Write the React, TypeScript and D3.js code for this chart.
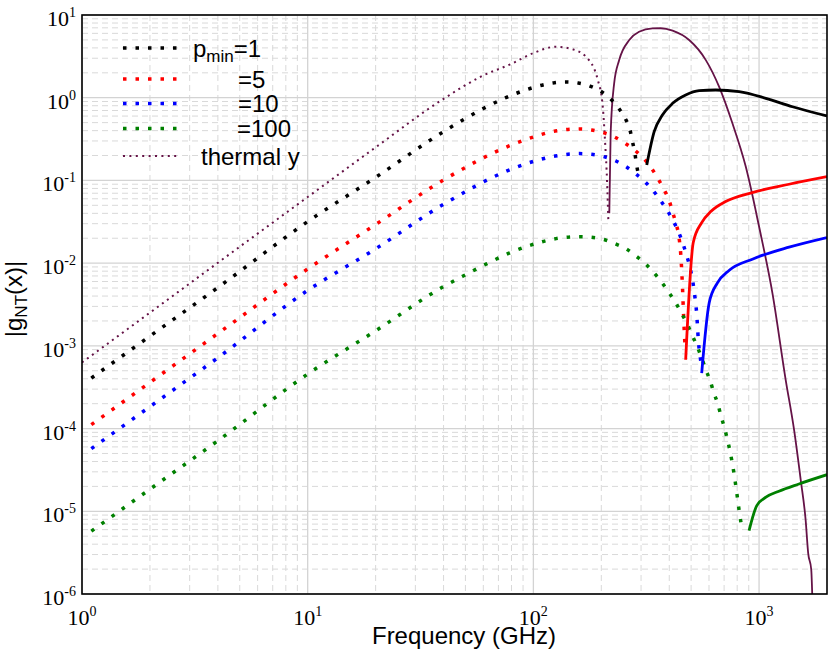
import * as d3 from "d3";

// |g_NT(x)|, GHz vs value
const p1DotFreq = [1.1, 2, 4, 10, 20, 40, 60, 76, 96, 124, 139, 158, 178, 199, 220, 239, 255, 268, 275, 282, 287, 294];
const p1DotVal = [4.08e-4, 1.31e-3, 5.07e-3, 0.0318, 0.109, 0.389, 0.74, 1.01, 1.285, 1.517, 1.55, 1.507, 1.384, 1.194, 0.964, 0.745, 0.564, 0.407, 0.294, 0.209, 0.151, 0.11];
const p1SolidFreq = [318, 343, 373, 414, 473, 543, 643, 816, 1071, 1406, 2000];
const p1SolidVal = [0.154, 0.389, 0.618, 0.855, 1.079, 1.216, 1.239, 1.183, 0.984, 0.778, 0.601];

const p5DotFreq = [1.1, 2, 4, 10, 20, 40, 78, 98, 125, 160, 181, 204, 230, 255, 283, 334, 358, 380, 400, 414, 428, 440, 450, 458, 464, 471];
const p5DotVal = [1.114e-4, 3.61e-4, 1.41e-3, 8.51e-3, 0.0293, 0.1014, 0.261, 0.329, 0.396, 0.419, 0.407, 0.378, 0.333, 0.281, 0.229, 0.14, 0.103, 0.0767, 0.0565, 0.0413, 0.0304, 0.022, 0.0126, 5.0e-3, 2.0e-3, 8.9e-4];
const p5SolidFreq = [473, 511, 557, 611, 711, 933, 1358, 2000];
const p5SolidVal = [6.79e-4, 0.01774, 0.0309, 0.042, 0.0555, 0.0713, 0.0899, 0.111];

const p10DotFreq = [1.1, 2, 4, 10, 20, 40, 77, 98, 125, 160, 181, 205, 231, 257, 284, 313, 341, 367, 393, 418, 440, 461, 478, 495, 516, 530, 538, 552];
const p10DotVal = [5.71e-5, 1.84e-4, 7.18e-4, 4.68e-3, 0.0149, 0.0515, 0.1315, 0.167, 0.197, 0.211, 0.207, 0.194, 0.173, 0.147, 0.12, 0.0959, 0.0741, 0.0565, 0.0429, 0.0318, 0.0237, 0.0169, 0.0123, 8.71e-3, 4.54e-3, 2.31e-3, 1.19e-3, 6.49e-4];
const p10SolidFreq = [557, 601, 653, 736, 934, 1358, 2000];
const p10SolidVal = [4.69e-4, 3.29e-3, 5.73e-3, 8.15e-3, 0.01117, 0.0156, 0.0204];

const p100DotFreq = [1.1, 2, 4, 10, 20, 40, 50, 62, 78, 98, 126, 161, 205, 231, 259, 287, 315, 343, 371, 400, 428, 455, 482, 507, 533, 557, 581, 607, 631, 658, 679, 703, 725, 745, 762, 778, 791, 805, 818, 832];
const p100DotVal = [5.75e-6, 1.85e-5, 7.13e-5, 4.56e-4, 1.52e-3, 5.21e-3, 7.23e-3, 9.79e-3, 0.0132, 0.0166, 0.0198, 0.0209, 0.0193, 0.0171, 0.01476, 0.012, 9.73e-3, 7.57e-3, 5.83e-3, 4.35e-3, 3.29e-3, 2.44e-3, 1.8e-3, 1.32e-3, 9.68e-4, 7.13e-4, 5.14e-4, 3.79e-4, 2.69e-4, 1.95e-4, 1.4e-4, 1.02e-4, 7.21e-5, 5.21e-5, 3.73e-5, 2.65e-5, 1.92e-5, 1.36e-5, 9.73e-6, 7.24e-6];
const p100SolidFreq = [903, 977, 1077, 1225, 1502, 2000];
const p100SolidVal = [5.85e-6, 1.17e-5, 1.49e-5, 1.75e-5, 2.14e-5, 2.77e-5];

const thermDotFreq = [1, 2, 5, 10, 20, 39.7, 60, 80, 100, 126, 149, 171, 193, 203, 208, 212, 215];
const thermDotVal = [6.3e-4, 2.52e-3, 0.0158, 0.063, 0.251, 0.957, 1.86, 2.57, 3.47, 4.13, 3.85, 3.13, 1.64, 0.778, 0.282, 0.1, 0.031];
const thermSolidFreq = [217, 220, 228, 240, 266, 294, 337, 367, 414, 490, 581, 665, 762, 873, 1000, 1146, 1312, 1429, 1529, 1608, 1651, 1703, 1720];
const thermSolidVal = [0.04, 0.372, 1.49, 2.85, 4.98, 6.27, 6.89, 6.92, 6.46, 4.98, 2.85, 1.36, 0.49, 0.147, 0.0277, 4.35e-3, 3.89e-4, 9.7e-5, 2.42e-5, 7.9e-6, 3.1e-6, 1.98e-6, 1e-6];

const xDecades = [1, 10, 100, 1000];
const yDecades = [1e-6, 1e-5, 1e-4, 1e-3, 1e-2, 1e-1, 1, 10];
const legendLabels = ["=1", "=5", "=10", "=100", "thermal y"];
const legendColors = ["#000000", "#ff0000", "#0000ff", "#008000", "#651347"];

const PURPLE = "#651347";
const SANS = "'Liberation Sans', Arial, sans-serif";
const SERIF = "'Liberation Serif', 'Times New Roman', serif";

const left = 82, right = 827, top = 15, bottom = 594;

export default function App() {
  const x = d3.scaleLog().domain([1, 2000]).range([left, right]);
  const y = d3.scaleLog().domain([1e-6, 10]).range([bottom, top]);

  const line = (fs: number[], vs: number[]) =>
    d3
      .line<number>()
      .x((_, i) => x(fs[i]))
      .y((_, i) => y(vs[i]))
      .curve(d3.curveMonotoneX)(vs) ?? "";

  const xMinor: number[] = [];
  xDecades.forEach((d) => {
    for (let k = 2; k <= 9; k++) if (d * k < 2000) xMinor.push(d * k);
  });
  const yMinor: number[] = [];
  yDecades.slice(0, -1).forEach((d) => {
    for (let k = 2; k <= 9; k++) yMinor.push(d * k);
  });

  const dotted = [
    { f: p1DotFreq, v: p1DotVal, c: "#000000" },
    { f: p5DotFreq, v: p5DotVal, c: "#ff0000" },
    { f: p10DotFreq, v: p10DotVal, c: "#0000ff" },
    { f: p100DotFreq, v: p100DotVal, c: "#008000" },
  ];
  const solid = [
    { f: p1SolidFreq, v: p1SolidVal, c: "#000000" },
    { f: p5SolidFreq, v: p5SolidVal, c: "#ff0000" },
    { f: p10SolidFreq, v: p10SolidVal, c: "#0000ff" },
    { f: p100SolidFreq, v: p100SolidVal, c: "#008000" },
  ];

  const legendRows = [48, 79, 103.5, 128.5, 156];
  const legendTextX = [193, 238, 238, 237, 201];

  return (
    <>
      <style>{`body{margin:0}`}</style>
      <svg width={830} height={660} style={{ display: "block", background: "#fff" }}>
        <defs>
          <clipPath id="plot">
            <rect x={left} y={top} width={right - left} height={bottom - top} />
          </clipPath>
        </defs>
        {/* grid */}
        <g stroke="#d9d9d9" strokeWidth={1} strokeDasharray="6 4">
          {xMinor.map((v) => (
            <line key={"xm" + v} x1={x(v)} x2={x(v)} y1={top} y2={bottom} />
          ))}
          {yMinor.map((v) => (
            <line key={"ym" + v} x1={left} x2={right} y1={y(v)} y2={y(v)} />
          ))}
        </g>
        <g stroke="#d3d3d3" strokeWidth={1.3}>
          {xDecades.map((v) => (
            <line key={"xM" + v} x1={x(v)} x2={x(v)} y1={top} y2={bottom} />
          ))}
          {yDecades.map((v) => (
            <line key={"yM" + v} x1={left} x2={right} y1={y(v)} y2={y(v)} />
          ))}
        </g>

        {/* curves */}
        <g clipPath="url(#plot)" fill="none">
          <path d={line(thermDotFreq, thermDotVal)} stroke={PURPLE} strokeWidth={2} strokeDasharray="2 4.2" />
          <path d={line(thermSolidFreq, thermSolidVal)} stroke={PURPLE} strokeWidth={1.8} />
          {dotted.map((s, i) => (
            <path key={"d" + i} d={line(s.f, s.v)} stroke={s.c} strokeWidth={3.5} strokeDasharray="3.5 9" />
          ))}
          {solid.map((s, i) => (
            <path key={"s" + i} d={line(s.f, s.v)} stroke={s.c} strokeWidth={2.8} />
          ))}
        </g>

        {/* legend */}
        <g fontFamily={SANS} fontSize={24}>
          {legendLabels.map((lab, i) => (
            <g key={lab}>
              <line
                x1={123}
                x2={177}
                y1={legendRows[i]}
                y2={legendRows[i]}
                stroke={legendColors[i]}
                strokeWidth={i === 4 ? 2 : 3.5}
                strokeDasharray={i === 4 ? "2 4.4" : "3.5 9"}
              />
              <text x={legendTextX[i]} y={legendRows[i] + 8.5}>
                {i === 0 ? (
                  <>
                    p
                    <tspan fontSize={17} dy={5.5}>min</tspan>
                    <tspan dy={-5.5}>{lab}</tspan>
                  </>
                ) : (
                  lab
                )}
              </text>
            </g>
          ))}
        </g>

        {/* frame */}
        <rect x={left} y={top} width={right - left} height={bottom - top} fill="none" stroke="#000" strokeWidth={1.6} />

        {/* tick labels */}
        <g fontFamily={SERIF} fontSize={22}>
          {xDecades.map((v) => (
            <text key={"xt" + v} x={x(v)} y={bottom + 31} textAnchor="middle">
              10
              <tspan fontSize={14} dy={-9}>{Math.round(Math.log10(v))}</tspan>
            </text>
          ))}
          {yDecades.map((v) => (
            <text key={"yt" + v} x={76} y={y(v) + 11} textAnchor="end">
              10
              <tspan fontSize={14} dy={-9}>{Math.round(Math.log10(v))}</tspan>
            </text>
          ))}
        </g>

        {/* axis titles */}
        <text x={464} y={644} textAnchor="middle" fontFamily={SANS} fontSize={24}>
          Frequency (GHz)
        </text>
        <text transform="translate(22,299) rotate(-90)" textAnchor="middle" fontFamily={SANS} fontSize={24}>
          |g<tspan fontSize={17} dy={5}>NT</tspan>
          <tspan dy={-5}>(x)|</tspan>
        </text>
      </svg>
    </>
  );
}
